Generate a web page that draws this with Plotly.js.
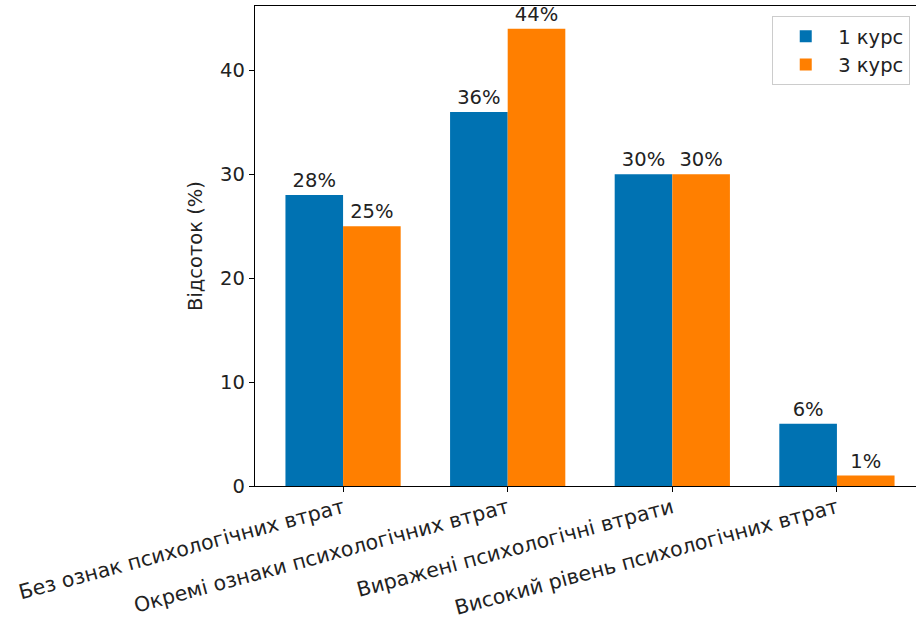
<!DOCTYPE html>
<html>
<head>
<meta charset="utf-8">
<script src="https://cdn.plot.ly/plotly-3.0.1.min.js"></script>
<style>
html, body { margin:0; padding:0; overflow:hidden; background:#fff; }
#chart { position:absolute; left:0; top:0; width:930px; height:621px; }
</style>
</head>
<body>
<div id="chart"></div>
<script>
const categories = ["Без ознак психологічних втрат", "Окремі ознаки психологічних втрат", "Виражені психологічні втрати", "Високий рівень психологічних втрат"];
const course1 = [28, 36, 30, 6];
const course3 = [25, 44, 30, 1];
const seriesNames = ["1 курс", "3 курс"];
const yTicks = [0, 10, 20, 30, 40];

const FS = 19.5;
const font = {family: "DejaVu Sans, sans-serif", size: FS, color: "#222"};

const traces = [
  {type: "bar", name: seriesNames[0], x: categories, y: course1, marker: {color: "#0072B2"},
   text: course1.map(v => v + "%"), textposition: "outside", cliponaxis: false,
   textfont: {family: font.family, size: FS, color: "#222"}},
  {type: "bar", name: seriesNames[1], x: categories, y: course3, marker: {color: "#FF7F00"},
   text: course3.map(v => v + "%"), textposition: "outside", cliponaxis: false,
   textfont: {family: font.family, size: FS, color: "#222"}}
];

const layout = {
  width: 930, height: 621,
  margin: {l: 255, r: 5, t: 6, b: 135},
  paper_bgcolor: "#fff", plot_bgcolor: "#fff",
  font: font,
  barmode: "group", bargap: 0.3, bargroupgap: 0,
  showlegend: true,
  legend: {x: 0.772, y: 0.979, xanchor: "left", yanchor: "top", itemwidth: 55,
           bgcolor: "rgba(255,255,255,0.8)", bordercolor: "#ccc", borderwidth: 1,
           font: {family: font.family, size: FS, color: "#222"}},
  xaxis: {type: "category", range: [-0.535, 3.535], tickangle: -15,
          showline: true, linecolor: "#000", linewidth: 1.2, mirror: true,
          ticks: "outside", ticklen: 5, tickcolor: "#000", showgrid: false,
          ticklabelstandoff: -4,
          tickfont: {family: font.family, size: 20.5, color: "#222"}},
  yaxis: {range: [0, 46.2], tickvals: yTicks, showline: true, linecolor: "#000", linewidth: 1.2, mirror: true,
          ticks: "outside", ticklen: 5, tickcolor: "#000", showgrid: false, zeroline: false,
          tickfont: {family: font.family, size: FS, color: "#222"},
          title: {text: "Відсоток (%)", font: {family: font.family, size: FS, color: "#222"}, standoff: 12}}
};

Plotly.newPlot("chart", traces, layout, {staticPlot: true, displayModeBar: false});
</script>
</body>
</html>
